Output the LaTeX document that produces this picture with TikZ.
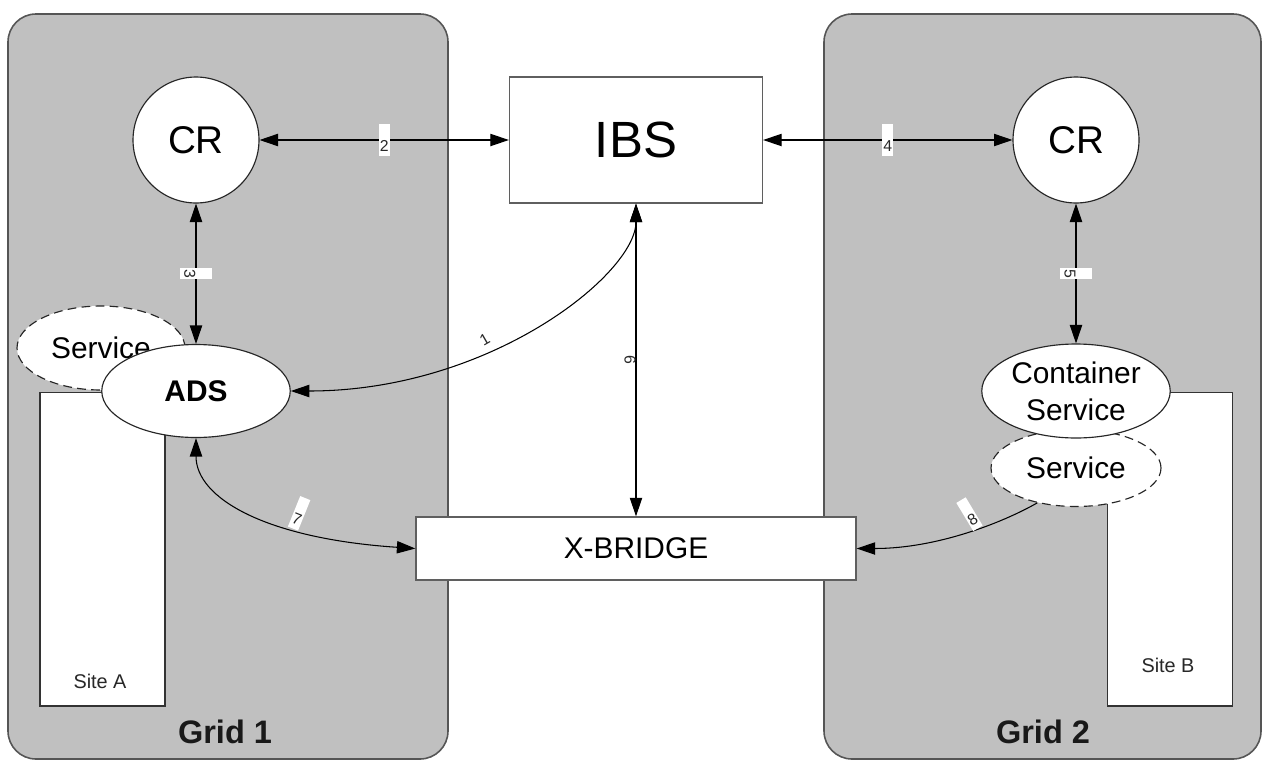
\documentclass[tikz,border=0pt]{standalone}
\usepackage{fontspec}
\setmainfont{Liberation Sans}
\usetikzlibrary{arrows.meta,shapes.geometric,calc}

\definecolor{panelgray}{RGB}{192,192,192}
\definecolor{rimgray}{RGB}{85,85,85}
\definecolor{boxgray}{RGB}{95,95,95}
\definecolor{inkgray}{RGB}{40,40,40}

\tikzset{
  gridpanel/.style={draw=rimgray, fill=panelgray, line width=0.9pt, rounded corners=0.56cm},
  gridtitle/.style={font=\fontsize{18.5}{20}\selectfont\bfseries, text=black!90, inner sep=0pt},
  sitebox/.style={draw=black!80, fill=white, line width=0.6pt, minimum width=2.5cm, minimum height=6.28cm, inner sep=0pt},
  sitetext/.style={font=\fontsize{11.3}{12}\selectfont, text=inkgray, inner sep=0pt},
  svc/.style={ellipse, draw=black!85, fill=white, line width=0.65pt, inner sep=0pt,
    minimum width=3.77cm, minimum height=1.88cm, align=center, font=\fontsize{17}{21}\selectfont},
  svcdash/.style={svc, dash pattern=on 5pt off 3pt},
  crnode/.style={circle, draw=black!85, fill=white, line width=0.65pt, minimum size=2.52cm,
    inner sep=0pt, font=\fontsize{22}{24}\selectfont},
  plainbox/.style={draw=boxgray, fill=white, line width=0.8pt, inner sep=0pt},
  link/.style={draw=black, line width=0.6pt},
  numlbl/.style={fill=white, text=inkgray, font=\fontsize{9}{9}\selectfont,
    inner xsep=0.6pt, inner ysep=0.5pt, text height=15.4pt, text depth=2.3pt}
}

\begin{document}
\begin{tikzpicture}[x=0.02cm, y=-0.02cm, >={Triangle[length=10.5pt,width=7pt]}]
  \useasboundingbox (0,0) rectangle (1264,761);
  % Grid panels.
  \draw[gridpanel] (8,14) rectangle (448,759);
  \draw[gridpanel] (824,14) rectangle (1261,759);
  \node[gridtitle] (grid1) at (225,732) {Grid 1};
  \node[gridtitle] (grid2) at (1043,732) {Grid 2};
  % Sites.
  \node[sitebox] (siteA) at (102.5,549) {};
  \node[sitetext] (siteAtxt) at (100,681) {Site A};
  \node[sitebox] (siteB) at (1170,549) {};
  \node[sitetext] (siteBtxt) at (1168,665) {Site B};
  % Services, ADS and container.
  \node[svcdash, minimum width=3.36cm, minimum height=1.68cm] (srvA) at (101,348) {Service};
  \node[svc, minimum height=1.86cm, font=\fontsize{17}{21}\selectfont\bfseries] (ads) at (196,391) {ADS};
  \node[svcdash, minimum width=3.4cm, minimum height=1.54cm] (srvB) at (1076,468) {Service};
  \node[svc] (cont) at (1076,391) {Container\\Service};
  % Registries, IBS and bridge.
  \node[crnode] (crA) at (196,140) {CR};
  \node[crnode] (crB) at (1076,140) {CR};
  \node[plainbox, minimum width=5.06cm, minimum height=2.52cm, font=\fontsize{29}{31}\selectfont] (ibs) at (636,140) {IBS};
  \node[plainbox, minimum width=8.8cm, minimum height=1.26cm, font=\fontsize{17}{19}\selectfont] (xbr) at (636,548.5) {X-BRIDGE};
  % Links.
  \draw[link, <->] (crA) -- node[numlbl, pos=.5] (l2) {2} (ibs);
  \draw[link, <->] (ibs) -- node[numlbl, pos=.5] (l4) {4} (crB);
  \draw[link, <->] (crA) -- node[numlbl, rotate=-90, pos=.5] (l3) {3} (ads);
  \draw[link, <->] (crB) -- node[numlbl, rotate=-90, pos=.5] (l5) {5} (cont);
  \draw[link, <->] (ibs) -- node[numlbl, fill=none, rotate=-90, pos=.5] (l6) {6} (xbr);
  \draw[link, <->] (ads.east) .. controls ($(ads.east)+(200,0)$) and ($(ibs.south)+(0,70)$) .. node[numlbl, rotate=30, anchor=south, pos=.38] (l1) {1} (ibs.south);
  \draw[link, <->] (ads.south) .. controls ($(ads.south)+(0,60)$) and ($(xbr.west)+(-150,-10)$) .. node[numlbl, rotate=-22, anchor=south, pos=.67] (l7) {7} (xbr.west);
  \draw[link, ->] (srvB.222) .. controls ($(srvB.222)+(-35,20)$) and ($(xbr.east)+(80,0)$) .. node[numlbl, rotate=31, anchor=south, pos=.42] (l8) {8} (xbr.east);
\end{tikzpicture}
\end{document}
